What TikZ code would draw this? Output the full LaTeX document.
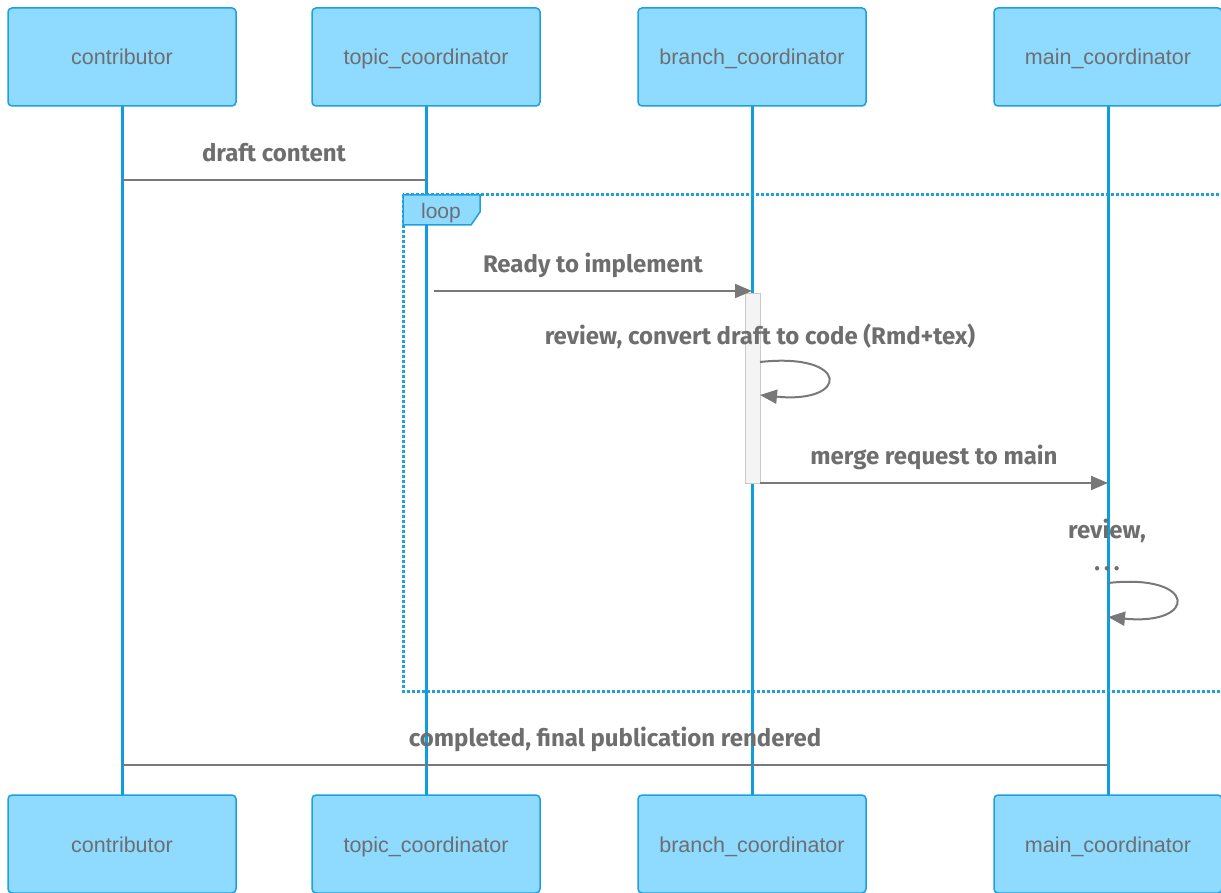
\documentclass[tikz,border=0pt]{standalone}
\usepackage{fontspec}
\setmainfont{Liberation Sans}
\newfontfamily\msgfont{Fira Sans}
\usetikzlibrary{positioning}
\usetikzlibrary{arrows.meta}
\definecolor{actorfill}{RGB}{142,219,255}
\definecolor{actorline}{RGB}{30,160,220}
\definecolor{lifecol}{RGB}{14,158,222}
\definecolor{txtgray}{RGB}{110,110,110}
\definecolor{msggray}{RGB}{120,120,120}
\definecolor{actfill}{RGB}{244,244,244}
\tikzset{
  actor/.style={draw=actorline, line width=1.5pt, fill=actorfill, rounded corners=4pt,
    minimum width=228pt, minimum height=98pt, text=txtgray, text height=16pt, text depth=0pt,
    font=\fontsize{21.5}{26}\selectfont},
  lifeline/.style={draw=lifecol, line width=3pt},
  msg/.style={draw=msggray, line width=2pt},
  msgarrow/.style={msg, -{Triangle[length=17pt,width=14pt]}},
  msglabel/.style={text=txtgray, font=\msgfont\bfseries\fontsize{24}{32}\selectfont, align=center},
  linelabel/.style={msglabel, text height=18pt, text depth=0pt, above=14pt}
}

\begin{document}
\begin{tikzpicture}[x=1pt, y=-1pt]
            \clip (0,0) rectangle (1221,893);
            % lifelines first, boxes drawn over them
            \coordinate (contribT) at (122,106);  \coordinate (contribB) at (122,795);
            \coordinate (topicT) at (426,106);    \coordinate (topicB) at (426,795);
            \coordinate (branchT) at (752,106);   \coordinate (branchB) at (752,795);
            \coordinate (mainT) at (1108,106);    \coordinate (mainB) at (1108,795);
            \draw[lifeline] (contribT) -- (contribB);
            \draw[lifeline] (topicT) -- (topicB);
            \draw[lifeline] (branchT) -- (branchB);
            \draw[lifeline] (mainT) -- (mainB);

            % actors, top and bottom
            \node[actor] (contrib) at (122,57) {contributor};
            \node[actor] (topic) at (426,57) {topic\_coordinator};
            \node[actor] (branch) at (752,57) {branch\_coordinator};
            \node[actor] (main) at (1108,57) {main\_coordinator};
            \node[actor] (contrib2) at (122,844) {contributor};
            \node[actor] (topic2) at (426,844) {topic\_coordinator};
            \node[actor] (branch2) at (752,844) {branch\_coordinator};
            \node[actor] (main2) at (1108,844) {main\_coordinator};

            % loop frame
            \draw[actorline, line width=3pt, dotted] (403,195) rectangle (1230,691);
            \draw[actorline, line width=1.5pt, fill=actorfill] (403,195) -- (480,195) -- (480,212) -- (471,225) -- (403,225) -- cycle;
            \node[text=txtgray, font=\fontsize{21}{24}\selectfont] (looplabel) at (441,213) {loop};

            % activation bar
            \draw[msggray!40, fill=actfill] (745,293) rectangle (760,483);

            % messages
            \draw[msg] (contribT |- 0,180) -- node[linelabel] (m1) {draft content} (topicT |- 0,180);
            \draw[msgarrow] (434,291) -- node[linelabel] (m2) {Ready to implement} (branchT |- 0,291);
            \node[msglabel] (m3) at (760,336) {review, convert draft to code (Rmd+tex)};
            \draw[msgarrow] (760,362) .. controls (850,352) and (850,404) .. (760,395);
            \draw[msgarrow] (760,483) -- node[linelabel] (m4) {merge request to main} (mainT |- 0,483);
            \node[msglabel] (m5) at (1107,545) {review,\\.\,.\,.};
            \draw[msgarrow] (1108,583) .. controls (1198,573) and (1198,626) .. (1108,617);
            \draw[msg] (mainT |- 0,765) -- node[linelabel] (m6) {completed, final publication rendered} (contribT |- 0,765);
        \end{tikzpicture}
\end{document}
